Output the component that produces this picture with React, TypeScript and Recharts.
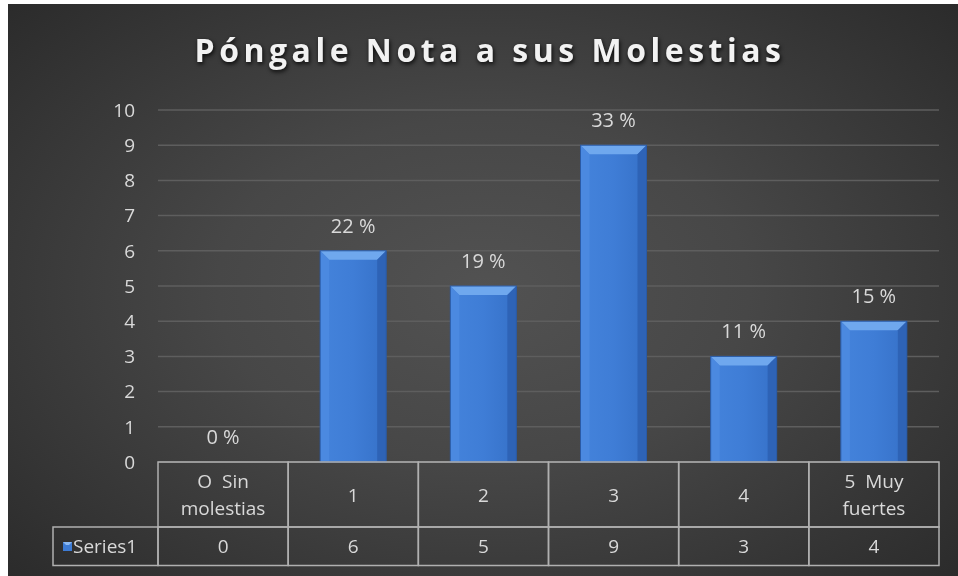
import React from "react";
import { BarChart, Bar, XAxis, YAxis, CartesianGrid, LabelList } from "recharts";

const categories = ["O  Sin molestias", "1", "2", "3", "4", "5  Muy fuertes"];
const categoryLines = [["O  Sin", "molestias"], ["1"], ["2"], ["3"], ["4"], ["5  Muy", "fuertes"]];
const values = [0, 6, 5, 9, 3, 4];
const pctLabels = ["0 %", "22 %", "19 %", "33 %", "11 %", "15 %"];
const yTicks = [0, 1, 2, 3, 4, 5, 6, 7, 8, 9, 10];
const seriesName = "Series1";
const title = "Póngale Nota a sus Molestias";

const data = categories.map((c, i) => ({ name: c, value: values[i], pct: pctLabels[i] }));

const FONT = "'Open Sans', 'Noto Sans', sans-serif";
const TEXT = "#d9d9d9";
const LINE = "#b0b0b0";

const BevelBar = (props: any) => {
  const { x, y, width, height } = props;
  if (!height || height <= 0) return null;
  const b = Math.min(9, height / 2, width / 2);
  return (
    <g>
      <rect x={x} y={y} width={width} height={height} fill="url(#barBody)" />
      <polygon points={`${x},${y} ${x + width},${y} ${x + width - b},${y + b} ${x + b},${y + b}`} fill="#6fa8ee" />
      <polygon points={`${x},${y} ${x + b},${y + b} ${x + b},${y + height} ${x},${y + height}`} fill="#4d8ae0" opacity={0.9} />
      <polygon points={`${x + width},${y} ${x + width - b},${y + b} ${x + width - b},${y + height} ${x + width},${y + height}`} fill="#2d62b4" opacity={0.9} />
      <rect x={x} y={y} width={width} height={height} fill="none" stroke="#2a5aa5" strokeWidth={1} />
    </g>
  );
};

const TableTick = (props: any) => {
  const { x, y, payload, index } = props;
  const half = payload && payload.offset ? payload.offset : 65;
  const i = index ?? 0;
  const lines = categoryLines[i] || [String(payload.value)];
  const row1 = 65;
  const row2 = 103.5;
  const left = x - half;
  const right = x + half;
  const fs = 19;
  return (
    <g>
      <rect x={left} y={y} width={right - left} height={row1} fill="none" stroke={LINE} strokeWidth={1.5} />
      <rect x={left} y={y + row1} width={right - left} height={row2 - row1} fill="none" stroke={LINE} strokeWidth={1.5} />
      {lines.map((ln, k) => (
        <text
          key={k}
          x={x}
          y={y + row1 / 2 + (k - (lines.length - 1) / 2) * 27}
          textAnchor="middle"
          dominantBaseline="central"
          fill={TEXT}
          fontSize={fs}
          fontFamily={FONT}
          style={{ whiteSpace: "pre" }}
        >
          {ln}
        </text>
      ))}
      <text
        x={x}
        y={y + (row1 + row2) / 2}
        textAnchor="middle"
        dominantBaseline="central"
        fill={TEXT}
        fontSize={fs}
        fontFamily={FONT}
      >
        {values[i]}
      </text>
      {i === 0 && (
        <g>
          <rect x={left - 105} y={y + row1} width={105} height={row2 - row1} fill="none" stroke={LINE} strokeWidth={1.5} />
          <rect x={left - 95} y={y + row1 + 15} width={9} height={9} fill="#3d7bd4" />
          <polygon
            points={`${left - 95},${y + row1 + 15} ${left - 86},${y + row1 + 15} ${left - 89},${y + row1 + 18} ${left - 92},${y + row1 + 18}`}
            fill="#8ab8f2"
          />
          <text
            x={left - 85}
            y={y + (row1 + row2) / 2}
            textAnchor="start"
            dominantBaseline="central"
            fill={TEXT}
            fontSize={fs}
            fontFamily={FONT}
          >
            {seriesName}
          </text>
        </g>
      )}
    </g>
  );
};

export default function App() {
  return (
    <div
      style={{
        position: "fixed",
        left: 8,
        top: 4,
        width: 950,
        height: 572,
        background: "radial-gradient(ellipse 70% 75% at 50% 50%, #525252 0%, #474747 40%, #2a2a2a 100%)",
      }}
    >
      <style>{`html, body { overflow: hidden; }`}</style>
      <svg
        width={950}
        height={90}
        style={{ position: "absolute", left: 0, top: 0, overflow: "visible" }}
      >
        <text
          x={482}
          y={57.5}
          textAnchor="middle"
          fill="#f2f2f2"
          fontFamily={FONT}
          fontWeight={700}
          fontSize={32}
          letterSpacing={4.5}
          style={{ filter: "drop-shadow(1px 2px 2px rgba(0,0,0,0.85))" }}
        >
          {title}
        </text>
      </svg>
      <BarChart
        width={950}
        height={572}
        data={data}
        margin={{ top: 106, right: 19, left: 0, bottom: 0 }}
        barSize={66}
        style={{ position: "absolute", left: 0, top: 0 }}
      >
        <defs>
          <linearGradient id="barBody" x1="0" y1="0" x2="1" y2="0">
            <stop offset="0%" stopColor="#4483db" />
            <stop offset="50%" stopColor="#3f7dd6" />
            <stop offset="100%" stopColor="#3671c8" />
          </linearGradient>
        </defs>
        <CartesianGrid vertical={false} stroke="#5e5e5e" strokeWidth={1.5} />
        <YAxis
          width={150}
          domain={[0, 10]}
          ticks={yTicks}
          interval={0}
          axisLine={false}
          tickLine={false}
          tickMargin={17}
          tick={{ fill: TEXT, fontSize: 19, fontFamily: FONT }}
        />
        <XAxis
          dataKey="name"
          height={114}
          interval={0}
          axisLine={false}
          tickLine={false}
          tickSize={0}
          tickMargin={0}
          tick={<TableTick />}
        />
        <Bar dataKey="value" isAnimationActive={false} shape={<BevelBar />}>
          <LabelList dataKey="pct" position="top" offset={18} fill={TEXT} fontSize={20} fontFamily={FONT} />
        </Bar>
      </BarChart>
    </div>
  );
}
